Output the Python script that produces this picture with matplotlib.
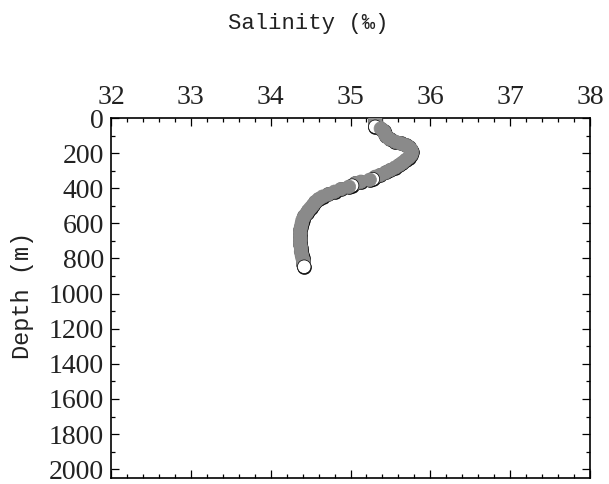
import matplotlib
matplotlib.use("Agg")
import matplotlib.pyplot as plt
from matplotlib.ticker import MultipleLocator
from matplotlib import font_manager

depth = [5, 20, 35, 50, 60, 75, 90, 105, 120, 135, 145, 155, 165, 180, 195,
         210, 225, 240, 255, 268, 282, 296, 310, 325, 335, 348, 352, 363, 372,
         385, 392, 405, 420, 435, 448, 462, 478, 496, 512, 528, 543, 560, 580,
         600, 620, 640, 660, 680, 700, 720, 740, 760, 780, 800, 815, 830, 847]
salinity = [35.31, 35.31, 35.32, 35.31, 35.38, 35.42, 35.43, 35.45, 35.49,
            35.56, 35.63, 35.69, 35.73, 35.76, 35.77, 35.76, 35.73, 35.69,
            35.65, 35.61, 35.56, 35.50, 35.44, 35.37, 35.31, 35.28, 35.24,
            35.13, 35.06, 35.02, 34.98, 34.88, 34.80, 34.72, 34.65, 34.60,
            34.56, 34.53, 34.50, 34.47, 34.45, 34.42, 34.40, 34.39, 34.38,
            34.37, 34.37, 34.37, 34.37, 34.37, 34.38, 34.38, 34.39, 34.40,
            34.41, 34.41, 34.42]
white_depths = [50, 348, 385, 847]

x_ticks = [32, 33, 34, 35, 36, 37, 38]
y_ticks = [0, 200, 400, 600, 800, 1000, 1200, 1400, 1600, 1800, 2000]

names = {f.name for f in font_manager.fontManager.ttflist}
mono = 'Liberation Mono' if 'Liberation Mono' in names else 'DejaVu Sans Mono'

fig = plt.figure(figsize=(6.09, 4.84), dpi=100)
ax = fig.add_axes([111/609, 1-478/484, (590-111)/609, (478-118)/484])

gray = '#8a8a8a'
# outline layer
ax.scatter(salinity, depth, s=112, c='#111111', linewidths=0, zorder=2)
faces = ['white' if d in white_depths else gray for d in depth]
edges = ['black' if d in white_depths else gray for d in depth]
ax.scatter(salinity, depth, s=95, c=faces, edgecolors=edges, linewidths=0.5, zorder=3)

ax.set_xlim(32, 38)
ax.set_ylim(2050, 0)
ax.set_xticks(x_ticks)
ax.set_yticks(y_ticks)
ax.xaxis.set_minor_locator(MultipleLocator(0.2))
ax.yaxis.set_minor_locator(MultipleLocator(100))
ax.tick_params(which='both', direction='in', top=True, right=True,
               labeltop=True, labelbottom=False, labelleft=True, labelright=False,
               width=0.9, color='black')
ax.tick_params(which='major', length=6)
ax.tick_params(which='minor', length=3)
ax.tick_params(axis='x', which='major', pad=6)
ax.tick_params(axis='y', which='major', pad=5)
for lab in ax.get_xticklabels() + ax.get_yticklabels():
    lab.set_fontfamily(['Liberation Serif', 'DejaVu Serif'])
    lab.set_fontsize(20)
    lab.set_color('#222222')
for sp in ax.spines.values():
    sp.set_linewidth(1.2)

fig.text(308/609, 1-24/484, 'Salinity (‰)', ha='center', va='center',
         fontsize=16, family=[mono, 'DejaVu Sans Mono'], color='#222222')
fig.text(22/609, 1-295/484, 'Depth (m)', ha='center', va='center', rotation=90,
         fontsize=17, family=[mono, 'DejaVu Sans Mono'], color='#222222')

fig.savefig('out.png', dpi=100)
